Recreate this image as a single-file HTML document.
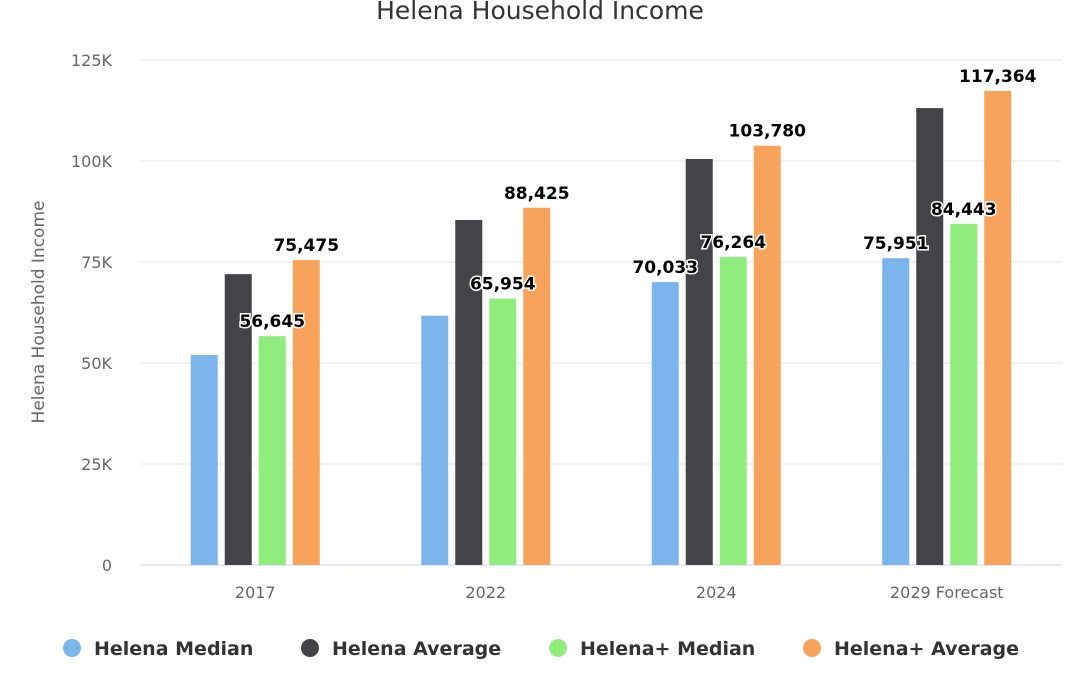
<!DOCTYPE html>
<html><head><meta charset="utf-8"><style>
body{margin:0;background:#fff;width:1080px;height:675px;overflow:hidden;font-family:"DejaVu Sans","Liberation Sans",sans-serif}
text{font-family:"DejaVu Sans","Liberation Sans",sans-serif}
</style></head><body>
<svg id="chart" width="1080" height="675" xmlns="http://www.w3.org/2000/svg">
<text x="540" y="19" text-anchor="middle" font-size="25" fill="#333">Helena Household Income</text>
<text transform="translate(44,312) rotate(-90)" text-anchor="middle" font-size="17" fill="#666">Helena Household Income</text>
<g id="grid"></g><g id="bars"></g><g id="labels"></g><g id="legend"></g>
</svg>
<script>
const categories=["2017","2022","2024","2029 Forecast"];
const seriesNames=["Helena Median","Helena Average","Helena+ Median","Helena+ Average"];
const colors=["#7cb5ec","#434348","#90ed7d","#f7a35c"];
const helenaMedian=[52000,61700,70033,75951];
const helenaAverage=[72000,85400,100500,113100];
const helenaPlusMedian=[56645,65954,76264,84443];
const helenaPlusAverage=[75475,88425,103780,117364];
const showLabel=[[false,false,true,true],[false,false,false,false],[true,true,true,true],[true,true,true,true]];
const yTicks=[0,25000,50000,75000,100000,125000];
const yTickLabels=["0","25K","50K","75K","100K","125K"];
const series=[helenaMedian,helenaAverage,helenaPlusMedian,helenaPlusAverage];
const NS="http://www.w3.org/2000/svg";
const x0=140,x1=1062,y0=565,yTop=60,yMax=125000;
const yS=v=>y0-(v/yMax)*(y0-yTop);
const gw=(x1-x0)/categories.length;
const xC=i=>x0+gw*(i+0.5);
function mk(t,a,p){const e=document.createElementNS(NS,t);for(const k in a)e.setAttribute(k,a[k]);p.appendChild(e);return e;}
const grid=document.getElementById('grid');
yTicks.forEach((v,i)=>{
 const l=mk('line',{x1:x0,x2:x1,y1:yS(v),y2:yS(v),stroke:i===0?'#ccd6eb':'#e6e6e6','stroke-width':1},grid);
 
 
 const t=mk('text',{x:112,y:yS(v)+6,'text-anchor':'end','font-size':16,fill:'#666'},grid);
 t.textContent=yTickLabels[i];
 
 
});
categories.forEach((c,i)=>{
 const t=mk('text',{x:xC(i),y:598,'text-anchor':'middle','font-size':16,fill:'#666'},grid);
 t.textContent=c;
 
 
});
const bars=document.getElementById('bars'),labels=document.getElementById('labels');
const bw=27,step=34;
series.forEach((s,si)=>{
 s.forEach((v,i)=>{
  const cx=xC(i)+(si-1.5)*step;
  const r=mk('rect',{x:cx-bw/2,y:yS(v),width:bw,height:y0-yS(v),fill:colors[si]},bars);
  
  
  if(showLabel[si][i]){
   const t=mk('text',{x:cx,y:yS(v)-9,'text-anchor':'middle','font-size':17,'font-weight':'bold',fill:'#000',stroke:'#fff','stroke-width':3,'paint-order':'stroke'},labels);
   t.textContent=v.toLocaleString('en-US');
   
   
  }
 });
});
const leg=document.getElementById('legend');
const lx=[72,310,558,812];
seriesNames.forEach((n,i)=>{
 const g=mk('g',{},leg);
 
 
 mk('circle',{cx:lx[i],cy:648,r:9,fill:colors[i]},g);
 const t=mk('text',{x:lx[i]+22,y:655,'font-size':19,'font-weight':'bold',fill:'#333'},g);
 t.textContent=n;
});
</script>
</body></html>
